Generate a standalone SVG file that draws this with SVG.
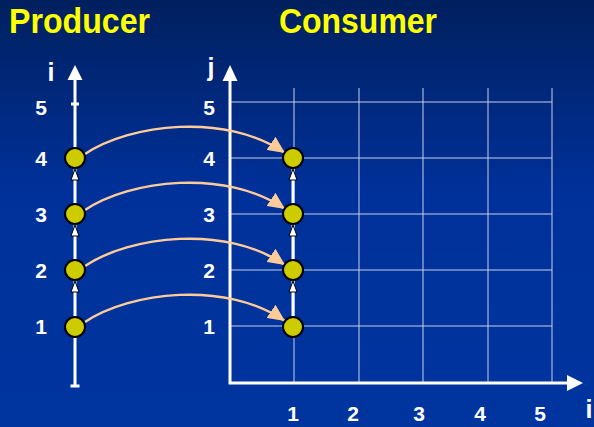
<svg xmlns="http://www.w3.org/2000/svg" width="594" height="427" viewBox="0 0 594 427">
<defs>
<linearGradient id="bg" x1="0" y1="0" x2="0" y2="1">
<stop offset="0" stop-color="#001f5e"/>
<stop offset="0.45" stop-color="#00319a"/>
<stop offset="1" stop-color="#00349e"/>
</linearGradient>
<marker id="peach" markerUnits="userSpaceOnUse" markerWidth="18" markerHeight="16" refX="17" refY="8" orient="auto" viewBox="0 0 18 16">
<path d="M0,0 L17,8 L0,16 z" fill="#ffcc99"/>
</marker>
<g id="upArrow"><path d="M0,0 L4,11 L-4,11 z" fill="#ffffff" stroke="#000000" stroke-width="1"/></g>
</defs>
<style>
.title{font-family:"Liberation Sans",Arial,sans-serif;font-weight:bold;font-size:35px;fill:#ffff00}
.lbl{font-family:"Liberation Sans",Arial,sans-serif;font-weight:bold;font-size:21px;fill:#ffffff;text-anchor:middle}
.ax{font-family:"Liberation Sans",Arial,sans-serif;font-weight:bold;font-size:25px;fill:#ffffff;text-anchor:middle}
.grid{stroke:#c8cfe6;stroke-width:1;fill:none}
.axis{stroke:#ffffff;stroke-width:3;fill:none}
.node{fill:#cccc00;stroke:#000000;stroke-width:2}
.dep{stroke:#ffcc99;stroke-width:2.5;fill:none;marker-end:url(#peach)}
</style>
<rect width="594" height="427" fill="url(#bg)"/>
<text class="title" x="9" y="33" textLength="141" lengthAdjust="spacingAndGlyphs">Producer</text>
<text class="title" x="279" y="33" textLength="158" lengthAdjust="spacingAndGlyphs">Consumer</text>

<g id="grid">
<path class="grid" d="M294,88V383 M359,88V383 M423,88V383 M488,88V383 M552,88V383 M230,102H552 M230,158H552 M230,214H552 M230,270H552 M230,326H552"/>
</g>

<g id="axes">
<path class="axis" d="M75,79V386 M70.5,386H79.5 M71,104H79"/>
<path d="M75,65 L82.5,80 L67.5,80 z" fill="#ffffff"/>
<path class="axis" d="M230,80V383H568"/>
<path d="M230,65 L237.5,81 L222.5,81 z" fill="#ffffff"/>
<path d="M583,383 L567,375 L567,391 z" fill="#ffffff"/>
<path class="axis" d="M293,169V316 "/>
</g>

<g id="labels">
<text class="ax" x="51" y="81">i</text>
<text class="ax" x="211" y="76">j</text>
<text class="ax" x="589" y="418">i</text>
<text class="lbl" x="41" y="115">5</text>
<text class="lbl" x="41" y="166">4</text>
<text class="lbl" x="41" y="222">3</text>
<text class="lbl" x="41" y="278">2</text>
<text class="lbl" x="41" y="334">1</text>
<text class="lbl" x="209" y="115">5</text>
<text class="lbl" x="209" y="166">4</text>
<text class="lbl" x="209" y="222">3</text>
<text class="lbl" x="209" y="278">2</text>
<text class="lbl" x="209" y="334">1</text>
<text class="lbl" x="293" y="421">1</text>
<text class="lbl" x="353" y="421">2</text>
<text class="lbl" x="419" y="421">3</text>
<text class="lbl" x="480" y="421">4</text>
<text class="lbl" x="540" y="421">5</text>
</g>

<g id="connectors">
<use href="#upArrow" x="75" y="169"/>
<use href="#upArrow" x="75" y="225"/>
<use href="#upArrow" x="75" y="281"/>
<use href="#upArrow" x="293" y="169"/>
<use href="#upArrow" x="293" y="225"/>
<use href="#upArrow" x="293" y="281"/>
<path class="dep" d="M85,322 C130,292 225,280 285,321"/>
<path class="dep" d="M85,266 C130,236 225,224 285,265"/>
<path class="dep" d="M85,210 C130,180 225,168 285,209"/>
<path class="dep" d="M85,154 C130,124 225,112 285,153"/>
</g>

<g id="p1"><circle class="node" cx="75" cy="327" r="10"/></g>
<g id="p2"><circle class="node" cx="75" cy="270" r="10"/></g>
<g id="p3"><circle class="node" cx="75" cy="214" r="10"/></g>
<g id="p4"><circle class="node" cx="75" cy="158" r="10"/></g>
<g id="c1"><circle class="node" cx="293" cy="327" r="10"/></g>
<g id="c2"><circle class="node" cx="293" cy="270" r="10"/></g>
<g id="c3"><circle class="node" cx="293" cy="214" r="10"/></g>
<g id="c4"><circle class="node" cx="293" cy="158" r="10"/></g>
</svg>
